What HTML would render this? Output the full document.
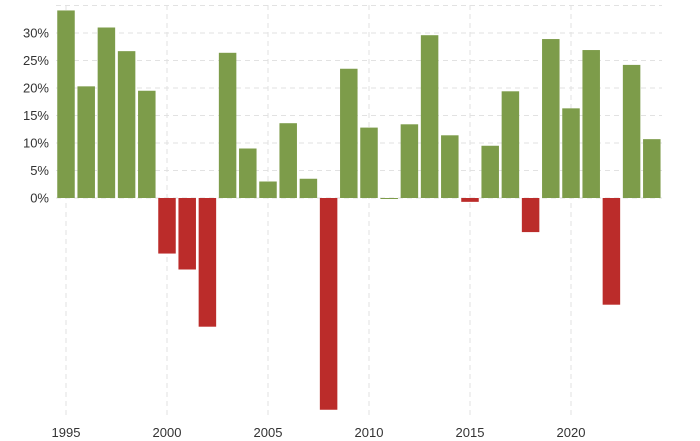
<!DOCTYPE html>
<html><head><meta charset="utf-8"><style>
html,body{margin:0;padding:0;background:#fff;}
svg{display:block;font-family:"Liberation Sans","DejaVu Sans",sans-serif;}
</style></head><body>
<svg id="chart" width="700" height="441" viewBox="0 0 700 441" xmlns="http://www.w3.org/2000/svg">
<g id="grid"></g>
<g id="bars"></g>
<g id="yaxis"></g>
<g id="xaxis"></g>
</svg>
<script>
const years = [1995,1996,1997,1998,1999,2000,2001,2002,2003,2004,2005,2006,2007,2008,2009,2010,2011,2012,2013,2014,2015,2016,2017,2018,2019,2020,2021,2022,2023,2024];
const returns = [34.1,20.3,31.0,26.7,19.5,-10.1,-13.0,-23.4,26.4,9.0,3.0,13.6,3.5,-38.5,23.5,12.8,0.0,13.4,29.6,11.4,-0.7,9.5,19.4,-6.2,28.9,16.3,26.9,-19.4,24.2,10.7];
const yTicks = [0,5,10,15,20,25,30,35];
const yTickLabels = ["0%","5%","10%","15%","20%","25%","30%",""];
const xTicks = [1995,2000,2005,2010,2015,2020];

const NS="http://www.w3.org/2000/svg";
const y = v => 198 - v*5.5;
const x = yr => 66.5 + (yr-1995)*20.2;
const barW = 17.5;
function mk(tag, attrs, parent){const e=document.createElementNS(NS,tag);for(const k in attrs)e.setAttribute(k,attrs[k]);parent.appendChild(e);return e;}
const grid=document.getElementById('grid'), bars=document.getElementById('bars'), ya=document.getElementById('yaxis'), xa=document.getElementById('xaxis');

yTicks.forEach((t,i)=>{
  const l=mk('line',{x1:56,x2:662,y1:y(t),y2:y(t),stroke:'#e2e2e2','stroke-dasharray':'5,4','stroke-width':1},grid);
  
  
  if(yTickLabels[i]){
    const tx=mk('text',{x:49,y:y(t)+4.5,'text-anchor':'end','font-size':13,fill:'#333'},ya);
    tx.textContent=yTickLabels[i];
    
    
  }
});
xTicks.forEach(t=>{
  const l=mk('line',{x1:x(t)-0.5,x2:x(t)-0.5,y1:5,y2:419,stroke:'#e2e2e2','stroke-dasharray':'5,4','stroke-width':1},grid);
  
  
  const tx=mk('text',{x:x(t)-0.5,y:437,'text-anchor':'middle','font-size':13,fill:'#333'},xa);
  tx.textContent=String(t);
  
  
});
returns.forEach((v,i)=>{
  const top=Math.min(y(v),y(0)), h=Math.max(Math.abs(y(v)-y(0)),1);
  const r=mk('rect',{x:x(years[i])-barW/2-0.5,y:top,width:barW,height:h,fill:v>=0?'#7d9c4a':'#bb2c2a'},bars);
  
  
});
</script>
</body></html>
